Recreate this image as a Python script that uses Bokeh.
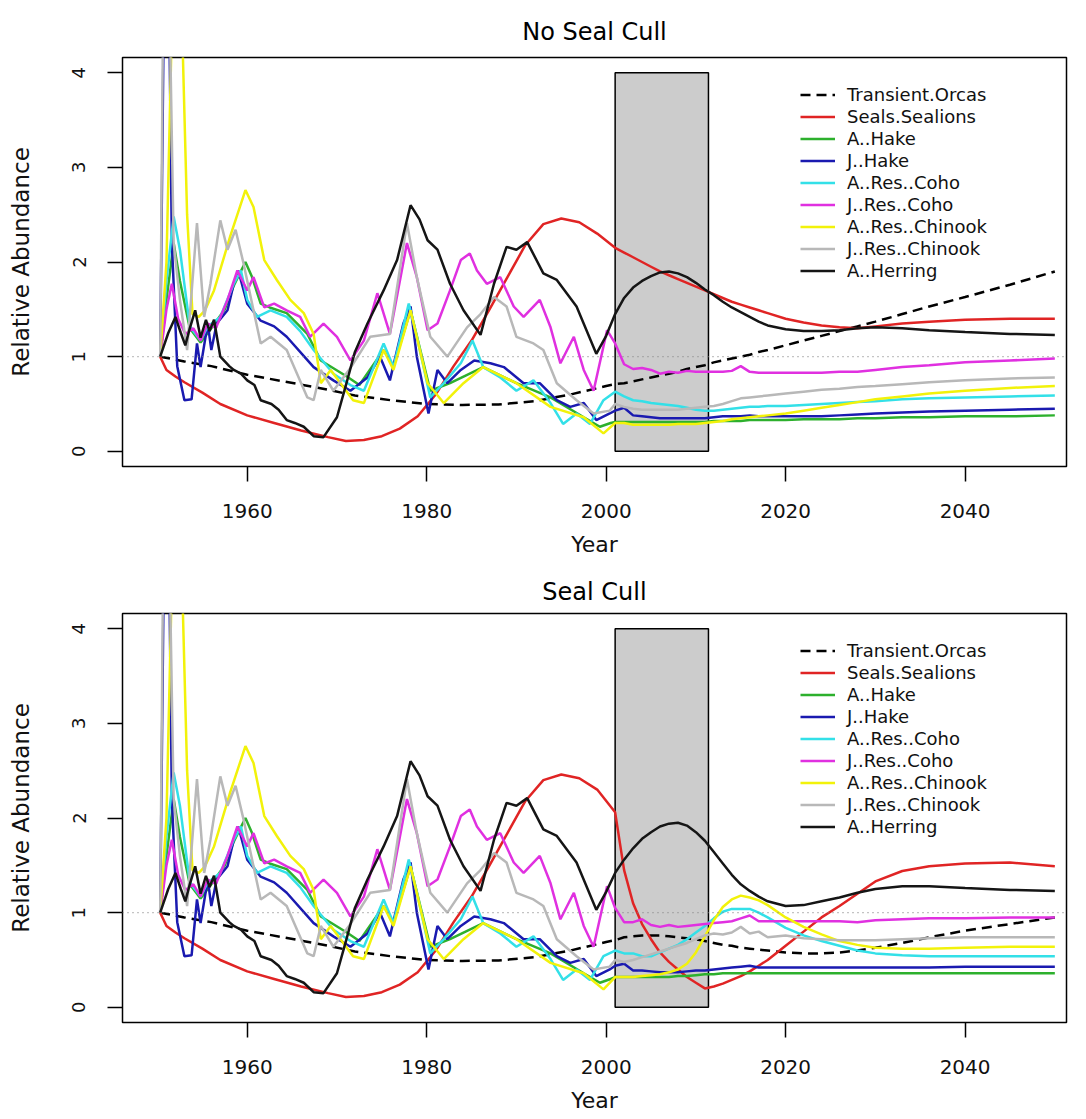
from bokeh.plotting import figure
from bokeh.models import Legend, LegendItem, Span, FixedTicker, Range1d
from bokeh.layouts import column
from bokeh.embed import file_html
from bokeh.resources import INLINE

# ---------------- data ----------------
species = ["Transient.Orcas", "Seals.Sealions", "A..Hake", "J..Hake", "A..Res..Coho",
           "J..Res..Coho", "A..Res..Chinook", "J..Res..Chinook", "A..Herring"]

x_ticks = [1960, 1980, 2000, 2020, 2040]
y_ticks = [0, 1, 2, 3, 4]
cull_period = [2001, 2011.4]
shade_range = [0, 4]

# history 1950-2000 (same in both scenarios)
orcas_hist_years = [1950.3, 1953, 1956, 1960, 1964, 1968, 1972, 1976, 1980, 1984, 1988, 1992, 1996, 2000]
orcas_hist = [1.0, 0.95, 0.90, 0.81, 0.74, 0.67, 0.59, 0.54, 0.50, 0.49, 0.495, 0.53, 0.60, 0.69]

seals_hist_years = [1950.3, 1951, 1952, 1953, 1955, 1957, 1960, 1963, 1966, 1969, 1971, 1973, 1975,
                    1977, 1979, 1981, 1983, 1985, 1987, 1989, 1991, 1993, 1995, 1997, 1999]
seals_hist = [1.0, 0.86, 0.79, 0.73, 0.62, 0.50, 0.38, 0.30, 0.22, 0.15, 0.11, 0.12, 0.16,
              0.24, 0.37, 0.60, 0.90, 1.17, 1.50, 1.84, 2.18, 2.40, 2.46, 2.42, 2.30]

ahake_hist_years = [1950.3, 1951.0, 1951.8, 1952.5, 1953.6, 1954.8, 1956.0, 1957.5, 1958.5, 1959.8,
                    1960.5, 1961.5, 1962.5, 1964.4, 1966.7, 1968.2, 1971.1, 1972.5, 1975.2, 1976.3,
                    1978.2, 1980.4, 1982.6, 1986.3, 1990.0, 1993.8, 1997.5, 1999.3, 2000.5]
ahake_hist = [1.0, 1.6, 2.2, 1.8, 1.3, 1.15, 1.3, 1.5, 1.75, 2.0,
              1.85, 1.56, 1.52, 1.46, 1.24, 0.96, 0.79, 0.70, 1.07, 0.90,
              1.49, 0.64, 0.72, 0.89, 0.72, 0.57, 0.36, 0.26, 0.30]

jhake_hist_years = [1950.3, 1950.8, 1951.2, 1951.6, 1952.2, 1953.0, 1953.8, 1954.4, 1954.8, 1955.6,
                    1956.0, 1956.6, 1957.8, 1958.5, 1959.0, 1960.0, 1961.5, 1963.0, 1964.4, 1967.4,
                    1969.6, 1971.5, 1973.4, 1974.8, 1975.9, 1977.4, 1978.2, 1978.9, 1980.2, 1981.2,
                    1982.3, 1983.8, 1985.3, 1987.1, 1988.6, 1990.8, 1992.6, 1994.5, 1996.0, 1997.5,
                    1998.9, 2000.4]
jhake_hist = [1.0, 5.5, 5.5, 2.2, 0.90, 0.54, 0.55, 1.14, 0.89, 1.35,
              1.07, 1.35, 1.49, 1.77, 1.91, 1.56, 1.38, 1.32, 1.21, 0.89,
              0.75, 0.64, 0.78, 1.00, 0.75, 1.35, 1.53, 1.00, 0.40, 0.86,
              0.72, 0.86, 0.96, 0.93, 0.89, 0.72, 0.72, 0.54, 0.47, 0.51,
              0.33, 0.40]

acoho_hist_years = [1950.3, 1951.0, 1951.8, 1952.5, 1953.6, 1954.8, 1955.6, 1957.0, 1958.5, 1959.3,
                    1960.0, 1961.1, 1962.6, 1964.4, 1965.9, 1967.4, 1969.6, 1971.5, 1973.0, 1975.2,
                    1976.3, 1978.0, 1978.9, 1980.4, 1981.9, 1983.8, 1985.1, 1986.3, 1988.2, 1990.0,
                    1991.9, 1993.8, 1995.2, 1996.7, 1998.2, 1999.7]
acoho_hist = [1.0, 1.8, 2.48, 2.13, 1.32, 1.17, 1.32, 1.42, 1.77, 1.91,
              1.60, 1.42, 1.49, 1.42, 1.27, 1.07, 0.82, 0.70, 0.64, 1.14,
              0.89, 1.56, 1.21, 0.57, 0.72, 0.93, 1.17, 0.89, 0.78, 0.64,
              0.75, 0.51, 0.29, 0.40, 0.29, 0.54]

jcoho_hist_years = [1950.3, 1951.0, 1951.6, 1952.3, 1953.1, 1954.0, 1954.8, 1955.6, 1956.5, 1957.8,
                    1958.9, 1960.0, 1960.7, 1961.9, 1963.0, 1964.4, 1965.9, 1967.0, 1968.5, 1970.0,
                    1971.5, 1973.0, 1974.5, 1975.9, 1977.8, 1978.9, 1980.1, 1981.2, 1982.6, 1983.8,
                    1984.8, 1985.6, 1986.7, 1988.2, 1989.7, 1990.8, 1992.6, 1993.8, 1994.9, 1996.4,
                    1997.5, 1998.6, 2000.1]
jcoho_hist = [1.0, 1.5, 1.77, 1.40, 1.24, 1.30, 1.17, 1.35, 1.30, 1.60,
              1.91, 1.70, 1.84, 1.52, 1.56, 1.49, 1.42, 1.21, 1.35, 1.21,
              0.96, 1.17, 1.67, 1.24, 2.20, 1.84, 1.28, 1.35, 1.70, 2.02,
              2.09, 1.91, 1.77, 1.84, 1.53, 1.42, 1.60, 1.31, 0.93, 1.21,
              0.86, 0.64, 1.28]

achin_hist_years = [1950.3, 1951.0, 1951.6, 1952.0, 1952.6, 1953.3, 1953.9, 1954.6, 1955.3, 1956.3,
                    1958.1, 1959.8, 1960.7, 1961.9, 1963.3, 1964.8, 1966.3, 1967.4, 1968.2, 1969.3,
                    1971.8, 1973.0, 1975.2, 1976.3, 1978.2, 1980.1, 1981.9, 1984.1, 1986.3, 1990.0,
                    1993.8, 1997.5, 1999.7]
achin_hist = [1.0, 2.0, 4.5, 6.0, 5.0, 2.5, 1.45, 1.42, 1.49, 1.70,
              2.27, 2.76, 2.58, 2.02, 1.81, 1.60, 1.46, 1.24, 0.72, 0.86,
              0.54, 0.51, 1.07, 0.86, 1.49, 0.72, 0.51, 0.72, 0.89, 0.72,
              0.47, 0.36, 0.19]

jchin_hist_years = [1950.3, 1950.7, 1951.2, 1951.8, 1952.5, 1953.3, 1954.4, 1955.2, 1955.9, 1957.0,
                    1957.8, 1958.7, 1959.6, 1960.7, 1961.5, 1962.6, 1964.4, 1966.7, 1967.4, 1968.2,
                    1969.6, 1971.5, 1973.7, 1975.9, 1977.8, 1978.9, 1980.4, 1982.3, 1984.5, 1986.0,
                    1987.5, 1988.9, 1990.0, 1991.9, 1993.0, 1994.5, 1996.7, 1998.6, 2000.4]
jchin_hist = [1.0, 5.5, 5.5, 2.2, 1.6, 1.07, 2.41, 1.42, 1.77, 2.44,
              2.13, 2.34, 1.98, 1.49, 1.14, 1.21, 1.07, 0.57, 0.54, 0.86,
              0.64, 0.88, 1.21, 1.24, 2.41, 1.84, 1.21, 1.00, 1.31, 1.45,
              1.63, 1.53, 1.21, 1.14, 1.07, 0.72, 0.54, 0.40, 0.43]

herring_hist_years = [1950.3, 1951.2, 1952.0, 1952.6, 1953.1, 1953.6, 1954.2, 1954.8, 1955.4, 1955.8,
                      1956.3, 1957.0, 1958.0, 1958.5, 1959.3, 1960.0, 1960.8, 1961.5, 1962.7, 1963.5,
                      1964.4, 1965.3, 1966.3, 1967.4, 1968.5, 1970.0, 1971.0, 1972.0, 1973.4, 1975.2,
                      1976.7, 1978.2, 1979.2, 1980.1, 1981.2, 1982.6, 1984.1, 1986.0, 1987.5, 1988.9,
                      1990.0, 1991.2, 1993.0, 1994.5, 1996.7, 1998.9, 2000.0]
herring_hist = [1.0, 1.25, 1.42, 1.25, 1.12, 1.30, 1.49, 1.20, 1.39, 1.27,
                1.39, 1.00, 0.90, 0.86, 0.82, 0.75, 0.70, 0.54, 0.50, 0.44,
                0.33, 0.30, 0.26, 0.16, 0.15, 0.36, 0.70, 1.05, 1.35, 1.70,
                2.02, 2.60, 2.45, 2.23, 2.13, 1.77, 1.49, 1.23, 1.77, 2.16,
                2.13, 2.21, 1.88, 1.81, 1.53, 1.03, 1.22]

# projections 2001-2050
future_years = [2001, 2002, 2003, 2004, 2005, 2006, 2007, 2008, 2009, 2010, 2011, 2012, 2013, 2014,
                2015, 2016, 2017, 2018, 2020, 2022, 2024, 2026, 2028, 2030, 2033, 2036, 2040, 2045, 2050]

orcas_nocull = [0.71, 0.72, 0.74, 0.76, 0.78, 0.80, 0.82, 0.84, 0.87, 0.89, 0.91, 0.94, 0.96, 0.98,
                1.00, 1.02, 1.05, 1.07, 1.12, 1.17, 1.22, 1.27, 1.32, 1.37, 1.45, 1.53, 1.63, 1.76, 1.90]
orcas_cull = [0.71, 0.74, 0.75, 0.76, 0.76, 0.76, 0.75, 0.74, 0.73, 0.72, 0.70, 0.68, 0.66, 0.65,
              0.63, 0.62, 0.61, 0.60, 0.58, 0.57, 0.57, 0.58, 0.60, 0.63, 0.68, 0.74, 0.81, 0.88, 0.95]

seals_nocull = [2.15, 2.10, 2.05, 2.00, 1.95, 1.90, 1.86, 1.82, 1.78, 1.74, 1.70, 1.66, 1.62, 1.58,
                1.55, 1.52, 1.49, 1.46, 1.40, 1.36, 1.33, 1.31, 1.30, 1.32, 1.35, 1.37, 1.39, 1.40, 1.40]
seals_cull = [2.06, 1.45, 1.10, 0.88, 0.72, 0.58, 0.48, 0.40, 0.32, 0.26, 0.20, 0.22, 0.25, 0.29,
              0.33, 0.38, 0.44, 0.50, 0.65, 0.80, 0.95, 1.07, 1.20, 1.33, 1.44, 1.49, 1.52, 1.53, 1.49]

ahake_nocull = [0.31, 0.31, 0.31, 0.31, 0.31, 0.31, 0.31, 0.31, 0.31, 0.31, 0.31, 0.32, 0.32, 0.32,
                0.32, 0.33, 0.33, 0.33, 0.33, 0.34, 0.34, 0.34, 0.35, 0.35, 0.36, 0.36, 0.37, 0.37, 0.38]
ahake_cull = [0.32, 0.32, 0.32, 0.32, 0.32, 0.32, 0.32, 0.33, 0.33, 0.34, 0.35, 0.35, 0.36, 0.36,
              0.36, 0.36, 0.36, 0.36, 0.36, 0.36, 0.36, 0.36, 0.36, 0.36, 0.36, 0.36, 0.36, 0.36, 0.36]

jhake_nocull = [0.43, 0.46, 0.38, 0.37, 0.36, 0.35, 0.35, 0.35, 0.35, 0.35, 0.35, 0.36, 0.37, 0.37,
                0.37, 0.38, 0.37, 0.37, 0.37, 0.37, 0.37, 0.38, 0.39, 0.40, 0.41, 0.42, 0.43, 0.44, 0.45]
jhake_cull = [0.44, 0.46, 0.39, 0.39, 0.38, 0.37, 0.37, 0.37, 0.38, 0.39, 0.39, 0.40, 0.41, 0.42,
              0.43, 0.44, 0.42, 0.42, 0.42, 0.42, 0.42, 0.42, 0.42, 0.42, 0.42, 0.42, 0.43, 0.43, 0.43]

acoho_nocull = [0.63, 0.58, 0.54, 0.53, 0.51, 0.50, 0.49, 0.48, 0.46, 0.44, 0.43, 0.43, 0.44, 0.45,
                0.46, 0.47, 0.47, 0.48, 0.48, 0.49, 0.50, 0.51, 0.52, 0.53, 0.55, 0.56, 0.57, 0.58, 0.59]
acoho_cull = [0.60, 0.57, 0.57, 0.54, 0.54, 0.58, 0.62, 0.66, 0.72, 0.79, 0.86, 0.94, 1.01, 1.04,
              1.04, 1.04, 1.00, 0.95, 0.84, 0.76, 0.70, 0.65, 0.60, 0.57, 0.55, 0.54, 0.54, 0.54, 0.54]

jcoho_nocull = [1.14, 0.92, 0.87, 0.88, 0.86, 0.82, 0.84, 0.83, 0.85, 0.84, 0.84, 0.84, 0.84, 0.85,
                0.90, 0.84, 0.83, 0.83, 0.83, 0.83, 0.83, 0.84, 0.84, 0.86, 0.89, 0.91, 0.94, 0.96, 0.98]
jcoho_cull = [1.05, 0.90, 0.90, 0.93, 0.87, 0.85, 0.87, 0.85, 0.86, 0.87, 0.88, 0.89, 0.90, 0.91,
              0.94, 0.97, 0.91, 0.91, 0.91, 0.91, 0.91, 0.91, 0.90, 0.92, 0.93, 0.94, 0.94, 0.95, 0.95]

achin_nocull = [0.30, 0.30, 0.28, 0.28, 0.28, 0.28, 0.28, 0.29, 0.29, 0.29, 0.30, 0.31, 0.32, 0.34,
                0.35, 0.36, 0.37, 0.38, 0.40, 0.43, 0.46, 0.49, 0.52, 0.55, 0.58, 0.61, 0.64, 0.67, 0.69]
achin_cull = [0.32, 0.32, 0.32, 0.33, 0.34, 0.35, 0.37, 0.40, 0.46, 0.58, 0.75, 0.92, 1.06, 1.14,
              1.18, 1.16, 1.13, 1.08, 0.95, 0.85, 0.77, 0.70, 0.66, 0.63, 0.62, 0.62, 0.63, 0.64, 0.64]

jchin_nocull = [0.50, 0.47, 0.45, 0.44, 0.44, 0.44, 0.44, 0.44, 0.45, 0.46, 0.47, 0.48, 0.50, 0.53,
                0.56, 0.57, 0.58, 0.59, 0.61, 0.63, 0.65, 0.66, 0.68, 0.69, 0.71, 0.73, 0.75, 0.77, 0.78]
jchin_cull = [0.50, 0.48, 0.50, 0.53, 0.56, 0.59, 0.62, 0.65, 0.68, 0.72, 0.76, 0.78, 0.77, 0.79,
              0.85, 0.78, 0.80, 0.74, 0.76, 0.73, 0.72, 0.71, 0.71, 0.71, 0.72, 0.73, 0.74, 0.74, 0.74]

herring_nocull = [1.45, 1.62, 1.73, 1.80, 1.85, 1.89, 1.90, 1.88, 1.84, 1.78, 1.71, 1.65, 1.58, 1.52,
                  1.47, 1.42, 1.37, 1.33, 1.29, 1.27, 1.27, 1.28, 1.30, 1.31, 1.30, 1.28, 1.26, 1.24, 1.23]
herring_cull = [1.42, 1.56, 1.68, 1.78, 1.85, 1.91, 1.94, 1.95, 1.92, 1.85, 1.76, 1.64, 1.52, 1.40,
                1.30, 1.23, 1.17, 1.12, 1.07, 1.08, 1.12, 1.16, 1.21, 1.25, 1.28, 1.28, 1.26, 1.24, 1.23]

# ---------------- styling ----------------
colors = ["black", "#E02424", "#2DB02D", "#1A1AB0", "#33E0E8",
          "#E030E0", "#F2F20A", "#B8B8B8", "#151515"]
dashes = ["10 6"] + ["solid"] * 8

hist = [(orcas_hist_years, orcas_hist), (seals_hist_years, seals_hist),
        (ahake_hist_years, ahake_hist), (jhake_hist_years, jhake_hist),
        (acoho_hist_years, acoho_hist), (jcoho_hist_years, jcoho_hist),
        (achin_hist_years, achin_hist), (jchin_hist_years, jchin_hist),
        (herring_hist_years, herring_hist)]
nocull = [orcas_nocull, seals_nocull, ahake_nocull, jhake_nocull, acoho_nocull,
          jcoho_nocull, achin_nocull, jchin_nocull, herring_nocull]
cull = [orcas_cull, seals_cull, ahake_cull, jhake_cull, acoho_cull,
        jcoho_cull, achin_cull, jchin_cull, herring_cull]

FONT = "DejaVu Sans"


def make_panel(title, proj, height, b_top, b_bottom, t_standoff):
    p = figure(width=1086, height=height, output_backend="svg", toolbar_location=None,
               x_range=Range1d(1946.1, 2051.3), y_range=Range1d(-0.16, 4.16),
               min_border_left=122, min_border_right=20,
               min_border_top=b_top, min_border_bottom=b_bottom)
    p.background_fill_color = "white"
    p.border_fill_color = "white"
    p.outline_line_color = "black"
    p.outline_line_width = 1.5
    p.xgrid.grid_line_color = None
    p.ygrid.grid_line_color = None

    p.title.text = title
    p.title.align = "center"
    p.title.text_font = FONT
    p.title.text_font_size = "24px"
    p.title.text_font_style = "normal"
    p.title.text_color = "black"
    p.title.standoff = t_standoff

    p.xaxis.ticker = FixedTicker(ticks=x_ticks)
    p.yaxis.ticker = FixedTicker(ticks=y_ticks)
    p.xaxis.axis_label = "Year"
    p.yaxis.axis_label = "Relative Abundance"
    for ax in (p.xaxis[0], p.yaxis[0]):
        ax.axis_line_color = None
        ax.major_tick_out = 15
        ax.major_tick_in = 0
        ax.major_tick_line_color = "black"
        ax.major_tick_line_width = 1.5
        ax.minor_tick_line_color = None
        ax.major_label_text_font = FONT
        ax.major_label_text_color = "#111111"
        ax.axis_label_text_font = FONT
        ax.axis_label_text_font_style = "normal"
        ax.axis_label_text_font_size = "22px"
        ax.axis_label_text_color = "#111111"
    p.yaxis.axis_label_text_font_size = "23px"
    p.xaxis.major_label_text_font_size = "20px"
    p.yaxis.major_label_text_font_size = "18px"
    p.xaxis.major_label_standoff = 22
    p.xaxis.axis_label_standoff = 11
    p.yaxis.major_label_standoff = 22
    p.yaxis.major_label_orientation = "vertical"
    p.yaxis.axis_label_standoff = 36

    # cull period shading
    p.quad(left=[cull_period[0]], right=[cull_period[1]], bottom=[shade_range[0]], top=[shade_range[1]],
           fill_color="#CCCCCC", line_color="black", line_width=1.5)
    p.add_layout(Span(location=1, dimension="width", line_color="#888888",
                      line_dash="1 4", line_width=1.2))

    items = []
    for i, name in enumerate(species):
        yrs, vals = hist[i]
        xs = list(yrs) + list(future_years)
        ys = list(vals) + list(proj[i])
        r = p.line(xs, ys, line_color=colors[i], line_width=2.5, line_dash=dashes[i])
        items.append(LegendItem(label=name, renderers=[r]))

    legend = Legend(items=items, location=(678, 185), label_text_font=FONT,
                    label_text_font_size="18px", label_text_color="#111111",
                    glyph_width=35, glyph_height=21, label_height=21, spacing=1,
                    padding=0, margin=0, label_standoff=12,
                    border_line_color=None, background_fill_alpha=0)
    p.add_layout(legend)
    return p


p1 = make_panel("No Seal Cull", nocull, 564, 57, 98, 24)
p2 = make_panel("Seal Cull", cull, 555, 49, 97, 15)
layout = column(p1, p2, spacing=0)

open("out.html", "w").write(file_html(layout, INLINE))
